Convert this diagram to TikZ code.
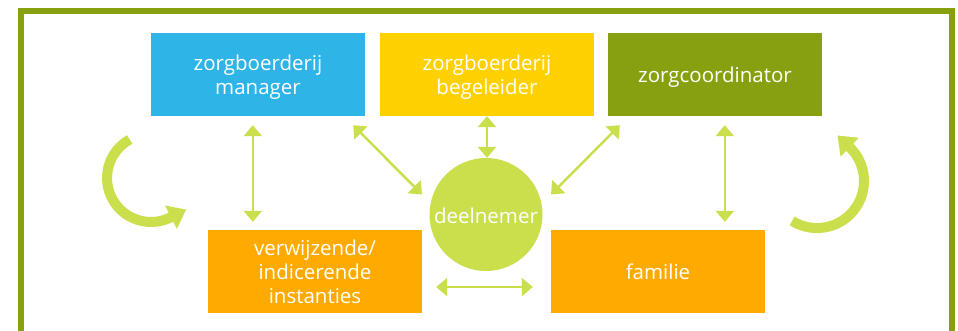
\documentclass[tikz,border=0pt]{standalone}
\usepackage{fontspec}
\setmainfont{Open Sans}
\usetikzlibrary{arrows.meta,calc}
\definecolor{cframe}{HTML}{87A010}
\definecolor{cblue}{HTML}{2EB4E6}
\definecolor{cyellow}{HTML}{FFD100}
\definecolor{cgreen}{HTML}{87A010}
\definecolor{corange}{HTML}{FFAA00}
\definecolor{clight}{HTML}{CBDE4B}
\newcommand\lowtxt[1]{\raisebox{-3.5pt}[\height][\depth]{\begin{tabular}{@{}c@{}}#1\end{tabular}}}
\tikzset{
  box/.style={minimum width=214pt, minimum height=83pt, inner sep=0pt, text=white,
    font=\fontsize{20.5}{24}\selectfont},
  dbl/.style={clight, line width=2.5pt,
    {Triangle[width=18pt,length=11pt]}-{Triangle[width=18pt,length=11pt]}},
  curv/.style={clight, line width=10pt, -{Triangle[width=25pt,length=17pt]}}
}
\begin{document}
\begin{tikzpicture}[x=1pt,y=-1pt]
\clip (0,0) rectangle (958,330);
\fill[white] (0,0) rectangle (958,330);
\draw[cframe, line width=6pt] (21,11) rectangle (952,345);

\node[box, fill=cblue] (man) at (258,74.5) {\lowtxt{zorgboerderij\\manager}};
\node[box, fill=cyellow] (beg) at (487,74.5) {\lowtxt{zorgboerderij\\begeleider}};
\node[box, fill=cgreen] (coo) at (715,74.5) {\lowtxt{zorgcoordinator}};
\node[box, fill=corange] (ver) at (315,271.5) {\lowtxt{verwijzende/\\indicerende\\instanties}};
\node[box, fill=corange] (fam) at (658,271.5) {\lowtxt{familie}};
\node[circle, fill=clight, minimum size=113pt, inner sep=0pt, text=white,
  font=\fontsize{20.5}{24}\selectfont] (dln) at (486,214.5) {\raisebox{-1pt}[\height][\depth]{deelnemer}};

\draw[dbl] ($(man.south west)+(102,9)$) -- ($(ver.north west)+(45,-8)$);
\draw[dbl] ($(man.south east)+(-12,9)$) -- ($(dln.center)+(-64,-20)$);
\draw[dbl] (beg.south) -- (beg.south |- dln.north);
\draw[dbl] ($(coo.south west)+(12,9)$) -- ($(dln.center)+(65,-20)$);
\draw[dbl] ($(coo.south west)+(117,9)$) -- ($(fam.north west)+(174,-8)$);
\draw[dbl] ($(ver.east)+(14,15.5)$) -- ($(fam.west)+(-18,15.5)$);

\coordinate (lc) at (151,178);
\coordinate (rc) at (817,181);
\draw[curv] ($(lc)+(-21.3,-38.5)$) arc[start angle=-119, end angle=-297, radius=44] -- ++(15.1,-7.7);
\draw[curv] ($(rc)+(-24.9,39.9)$) arc[start angle=-238, end angle=-406, radius=47] -- ++(-12.2,-11.8);
\end{tikzpicture}
\end{document}
